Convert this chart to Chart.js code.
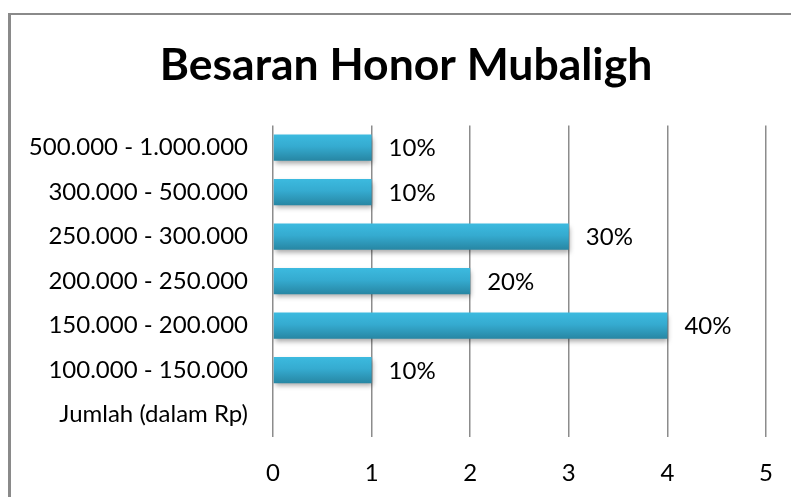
<!DOCTYPE html>
<html>
<head>
<meta charset="utf-8">
<script src="https://cdn.jsdelivr.net/npm/chart.js@4/dist/chart.umd.min.js"></script>
<style>
html,body{margin:0;padding:0;background:#fff;}
#wrap{position:relative;width:791px;height:497px;overflow:hidden;}
#frame{position:absolute;left:8px;top:13px;width:800px;height:500px;border-left:3px solid #8a8a8a;border-top:2px solid #8a8a8a;box-sizing:border-box;}
canvas{position:absolute;left:0;top:0;}
</style>
</head>
<body>
<div id="wrap">
<div id="frame"></div>
<canvas id="c" width="791" height="497"></canvas>
</div>
<script>
const chartTitle = "Besaran Honor Mubaligh";
const categories = ["500.000 - 1.000.000","300.000 - 500.000","250.000 - 300.000","200.000 - 250.000","150.000 - 200.000","100.000 - 150.000","Jumlah (dalam Rp)"];
const counts = [1,1,3,2,4,1,null];
const percentLabels = ["10%","10%","30%","20%","40%","10%",""];
const xTicks = [0,1,2,3,4,5];

const FONT = "Lato, 'Open Sans', sans-serif";

const barStyle = {
  id:'barStyle',
  afterLayout(chart){
    const tb = chart.titleBlock;
    if (tb) { tb.left = 2*406 - tb.right; }
  },
  beforeDatasetsDraw(chart){
    const ctx = chart.ctx;
    chart.getDatasetMeta(0).data.forEach(el=>{
      const h = el.height;
      const top = el.y - h/2;
      const g = ctx.createLinearGradient(0, top, 0, top + h);
      g.addColorStop(0, '#3cbadf');
      g.addColorStop(0.45, '#35abd0');
      g.addColorStop(1, '#2786a3');
      el.options = Object.assign({}, el.options, { backgroundColor: g });
    });
    ctx.save();
    ctx.shadowColor = 'rgba(0,0,0,0.35)';
    ctx.shadowBlur = 5;
    ctx.shadowOffsetY = 3;
    ctx.shadowOffsetX = 1;
  },
  afterDatasetsDraw(chart){
    const ctx = chart.ctx;
    ctx.restore();
    ctx.save();
    ctx.font = "24px " + FONT;
    ctx.fillStyle = '#000';
    ctx.textAlign = 'left';
    ctx.textBaseline = 'middle';
    chart.getDatasetMeta(0).data.forEach((el,i)=>{
      if (counts[i] == null) return;
      ctx.fillText(percentLabels[i], el.x + 17, el.y + 1);
    });
    ctx.restore();
  }
};

new Chart(document.getElementById('c'), {
  type: 'bar',
  data: {
    labels: categories,
    datasets: [{
      data: counts,
      backgroundColor: '#33a8cc',
      borderWidth: 0,
      barPercentage: 0.59,
      categoryPercentage: 1
    }]
  },
  options: {
    indexAxis: 'y',
    responsive: false,
    animation: false,
    events: [],
    layout: { padding: { left: 0, right: 25, top: 39, bottom: 0 } },
    plugins: {
      legend: { display: false },
      tooltip: { enabled: false },
      title: {
        display: true,
        text: chartTitle,
        color: '#000',
        font: { family: FONT, size: 44.5, weight: 'bold' },
        padding: { top: 0, bottom: 33 }
      }
    },
    scales: {
      x: {
        min: 0, max: 5,
        afterBuildTicks(s){ s.ticks = xTicks.map(v=>({value:v})); },
        afterFit(s){ s.height = 60; s.paddingRight = 0; s.paddingLeft = 0; },
        grid: { color: '#8c8c8c', lineWidth: 1.5, drawTicks: false },
        border: { display: false },
        ticks: { color: '#000', font: { family: FONT, size: 24 }, padding: 22, maxRotation: 0 }
      },
      y: {
        afterFit(s){ s.width = 273; s.paddingTop = 0; s.paddingBottom = 0; },
        grid: { display: false, drawTicks: false },
        border: { display: false },
        ticks: { color: '#000', font: { family: FONT, size: 24 }, padding: 25, autoSkip: false }
      }
    }
  },
  plugins: [barStyle]
});
</script>
</body>
</html>
